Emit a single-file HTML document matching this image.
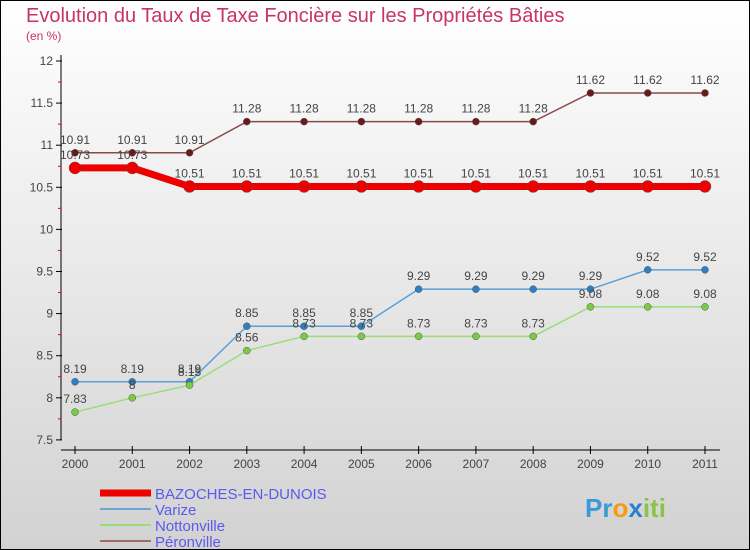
<!DOCTYPE html>
<html><head><meta charset="utf-8"><style>
body{margin:0;width:750px;height:550px;overflow:hidden;font-family:"Liberation Sans",sans-serif}
svg{display:block}
</style></head><body>
<svg width="750" height="550">
<defs><linearGradient id="bg" x1="0" y1="0" x2="0" y2="1"><stop offset="0" stop-color="#ffffff"/><stop offset="1" stop-color="#d2d2d2"/></linearGradient></defs>
<rect x="0.5" y="0.5" width="749" height="549" fill="url(#bg)" stroke="#000"/>
<text x="26" y="22" font-size="20" fill="#c8336a">Evolution du Taux de Taxe Foncière sur les Propriétés Bâties</text>
<text x="26" y="40" font-size="12" fill="#c8336a">(en %)</text>
<g id="axes"></g><g id="series"></g><g id="legend"></g>
<text x="585" y="517" font-size="26" font-weight="bold" fill="#3a9ad9">Pr<tspan fill="#f39c12">o</tspan><tspan fill="#2a7fd0">x</tspan><tspan fill="#8bc34a">iti</tspan></text>
</svg>
<script>
const years=[2000,2001,2002,2003,2004,2005,2006,2007,2008,2009,2010,2011];
const yTicks=[7.5,8,8.5,9,9.5,10,10.5,11,11.5,12];
const bazoches=[10.73,10.73,10.51,10.51,10.51,10.51,10.51,10.51,10.51,10.51,10.51,10.51];
const varize=[8.19,8.19,8.19,8.85,8.85,8.85,9.29,9.29,9.29,9.29,9.52,9.52];
const nottonville=[7.83,8,8.15,8.56,8.73,8.73,8.73,8.73,8.73,9.08,9.08,9.08];
const peronville=[10.91,10.91,10.91,11.28,11.28,11.28,11.28,11.28,11.28,11.62,11.62,11.62];
const NS='http://www.w3.org/2000/svg';
const xS=i=>75+i*(630/11);
const yS=v=>61+(12-v)*84.2;
function mk(t,a,p){const e=document.createElementNS(NS,t);for(const k in a)e.setAttribute(k,a[k]);p.appendChild(e);return e;}
const ax=document.getElementById('axes');
let l=mk('line',{x1:61,y1:55,x2:61,y2:440,stroke:'#000'},ax);

l=mk('line',{x1:61,y1:450,x2:720,y2:450,stroke:'#000'},ax);

yTicks.forEach((v,i)=>{const y=yS(v);mk('line',{x1:56,y1:y,x2:62,y2:y,stroke:'#000'},ax);
 if(i<yTicks.length-1){const ym=yS(v+0.25);mk('line',{x1:58,y1:ym,x2:61,y2:ym,stroke:'#e00'},ax);}
 const t=mk('text',{x:53,y:y+4,'font-size':12,'text-anchor':'end',fill:'#444'},ax);t.textContent=String(v);
 });
years.forEach((yr,i)=>{const x=xS(i);mk('line',{x1:x,y1:446,x2:x,y2:454,stroke:'#000'},ax);
 const t=mk('text',{x:x,y:468,'font-size':12,'text-anchor':'middle',fill:'#444'},ax);t.textContent=yr;
 });
const sg=document.getElementById('series');
function series(data,color,dot,w,r,name){
 const g=mk('g',{},sg);
 mk('polyline',{points:data.map((v,i)=>xS(i)+','+yS(v)).join(' '),fill:'none',stroke:color,'stroke-width':w},g);
 data.forEach((v,i)=>{const c=mk('circle',{cx:xS(i),cy:yS(v),r:r,fill:dot,stroke:'#555','stroke-width':0.5},g);
  
  const t=mk('text',{x:xS(i),y:yS(v)-9,'font-size':12,'text-anchor':'middle',fill:'#444'},g);t.textContent=String(v);});
}
series(peronville,'#8b4a4a','#6b1a1a',1.5,3.5,'series-peronville');
series(varize,'#5aa0d8','#2f7fc4',1.5,3.5,'series-varize');
series(nottonville,'#99dd77','#77cc44',1.5,3.5,'series-nottonville');
series(bazoches,'#ee0000','#ee0000',7,6,'series-bazoches');
const lg=document.getElementById('legend');
[['BAZOCHES-EN-DUNOIS','#ee0000',7],['Varize','#6fa6d0',2],['Nottonville','#99dd77',2],['Péronville','#a06a6a',2]].forEach((d,i)=>{
 const y=493+i*16;const g=mk('g',{},lg);
 mk('line',{x1:100,y1:y,x2:151,y2:y,stroke:d[1],'stroke-width':d[2]},g);
 const t=mk('text',{x:155,y:y+6,'font-size':15,fill:'#5a5aee'},g);t.textContent=d[0];});
</script>
</body></html>
